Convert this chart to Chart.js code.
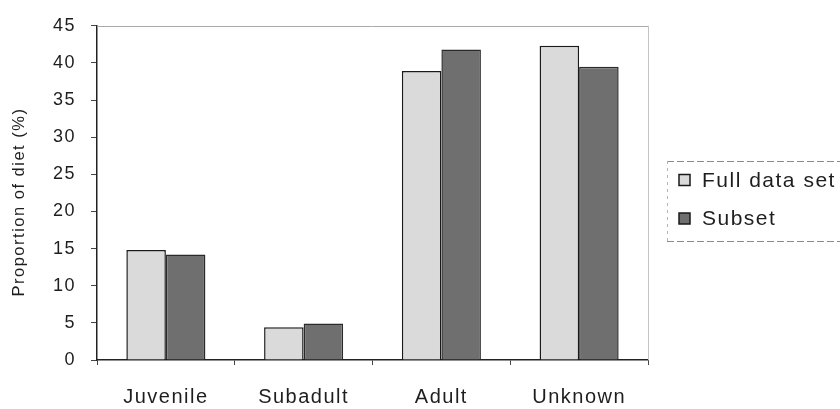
<!DOCTYPE html>
<html>
<head>
<meta charset="utf-8">
<script src="https://cdn.jsdelivr.net/npm/chart.js@4/dist/chart.umd.min.js"></script>
<style>
  html, body { margin: 0; padding: 0; background: #ffffff; }
  #wrap { width: 840px; height: 409px; }
  canvas { display: block; }
</style>
</head>
<body>
<div id="wrap"><canvas id="c" width="840" height="409"></canvas></div>
<script>
// Age classes of prey on the x axis
const categories = ['Juvenile', 'Subadult', 'Adult', 'Unknown'];

// Proportion of diet (%) for each age class
const fullDataSet = [14.8, 4.4, 38.9, 42.3];
const subsetValues = [14.2, 4.9, 41.8, 39.5];

// Value axis range and step
const yMin = 0;
const yMax = 45;
const yStep = 5;

const FONT = '"Liberation Sans", Arial, sans-serif';
const INK = '#1e1e1e';

// slightly open tracking for all text on the canvas
const tracking = {
  id: 'tracking',
  beforeUpdate(chart) { chart.ctx.letterSpacing = '1.5px'; },
  beforeDraw(chart) { chart.ctx.letterSpacing = '1.5px'; }
};

// light frame along the top and right of the plot area
const plotFrame = {
  id: 'plotFrame',
  beforeDatasetsDraw(chart) {
    const { ctx, chartArea: a } = chart;
    ctx.save();
    ctx.lineWidth = 1;
    ctx.strokeStyle = '#a9a9a9';
    ctx.beginPath();
    ctx.moveTo(a.left, Math.round(a.top) + 0.5);
    ctx.lineTo(a.right, Math.round(a.top) + 0.5);
    ctx.stroke();
    ctx.strokeStyle = '#c4c4c4';
    ctx.beginPath();
    ctx.moveTo(Math.round(a.right) + 0.5, a.top);
    ctx.lineTo(Math.round(a.right) + 0.5, a.bottom);
    ctx.stroke();
    ctx.restore();
  }
};

// legend in a dashed box to the right of the plot
const boxLegend = {
  id: 'boxLegend',
  afterDraw(chart, args, o) {
    const ctx = chart.ctx;
    ctx.save();
    ctx.lineWidth = 1;
    ctx.strokeStyle = '#8a8a8a';
    ctx.setLineDash([7, 3]);
    ctx.beginPath();
    ctx.moveTo(o.left, o.top + 0.5);
    ctx.lineTo(chart.width, o.top + 0.5);
    ctx.moveTo(o.left, o.bottom + 0.5);
    ctx.lineTo(chart.width, o.bottom + 0.5);
    ctx.stroke();
    ctx.strokeStyle = '#b5b5b5';
    ctx.setLineDash([3, 4]);
    ctx.beginPath();
    ctx.moveTo(o.left + 0.5, o.top);
    ctx.lineTo(o.left + 0.5, o.bottom);
    ctx.stroke();
    ctx.setLineDash([]);

    ctx.font = o.fontSize + 'px ' + FONT;
    ctx.letterSpacing = '1.5px';
    ctx.textAlign = 'left';
    ctx.textBaseline = 'middle';
    chart.data.datasets.forEach((ds, i) => {
      const y = o.rows[i];
      ctx.fillStyle = ds.backgroundColor;
      ctx.fillRect(o.boxX, y - o.boxSize / 2, o.boxSize, o.boxSize);
      ctx.strokeStyle = '#1a1a1a';
      ctx.lineWidth = 1.5;
      ctx.strokeRect(o.boxX, y - o.boxSize / 2, o.boxSize, o.boxSize);
      ctx.fillStyle = INK;
      ctx.fillText(ds.label, o.textX, y + 1);
    });
    ctx.restore();
  }
};

new Chart(document.getElementById('c'), {
  type: 'bar',
  data: {
    labels: categories,
    datasets: [
      {
        label: 'Full data set',
        data: fullDataSet,
        backgroundColor: '#dadada',
        borderColor: '#1a1a1a',
        borderWidth: 1.5
      },
      {
        label: 'Subset',
        data: subsetValues,
        backgroundColor: '#6f6f6f',
        borderColor: '#2a2a2a',
        borderWidth: 1.5
      }
    ]
  },
  options: {
    responsive: false,
    devicePixelRatio: 1,
    animation: false,
    categoryPercentage: 0.574,
    barPercentage: 1,
    layout: { padding: { top: 22, right: 192, left: 0, bottom: 0 } },
    plugins: {
      legend: { display: false },
      tooltip: { enabled: false },
      boxLegend: {
        left: 667, top: 161, bottom: 241,
        rows: [180, 218.5],
        boxX: 679, boxSize: 11,
        textX: 702, fontSize: 21
      }
    },
    scales: {
      x: {
        grid: {
          drawOnChartArea: false,
          drawTicks: true,
          tickLength: 5,
          color: '#444444',
          offset: true
        },
        border: { display: true, color: '#222222', width: 1.5 },
        ticks: {
          color: INK,
          font: { family: FONT, size: 20 },
          padding: 20,
          maxRotation: 0,
          autoSkip: false
        },
        afterFit(scale) { scale.height = 49; }
      },
      y: {
        min: yMin,
        max: yMax,
        grid: {
          drawOnChartArea: false,
          drawTicks: true,
          tickLength: 6,
          color: '#444444'
        },
        border: { display: true, color: '#222222', width: 1.5 },
        ticks: {
          stepSize: yStep,
          color: INK,
          font: { family: FONT, size: 18 },
          padding: 15
        },
        title: {
          display: true,
          // trailing no-break spaces nudge the centred title a little lower
          text: 'Proportion of diet (%)\u00a0\u00a0\u00a0',
          color: INK,
          font: { family: FONT, size: 16.5 },
          padding: { top: 10, bottom: 0 }
        },
        afterFit(scale) { scale.width = 97; }
      }
    }
  },
  plugins: [tracking, plotFrame, boxLegend]
});
</script>
</body>
</html>
